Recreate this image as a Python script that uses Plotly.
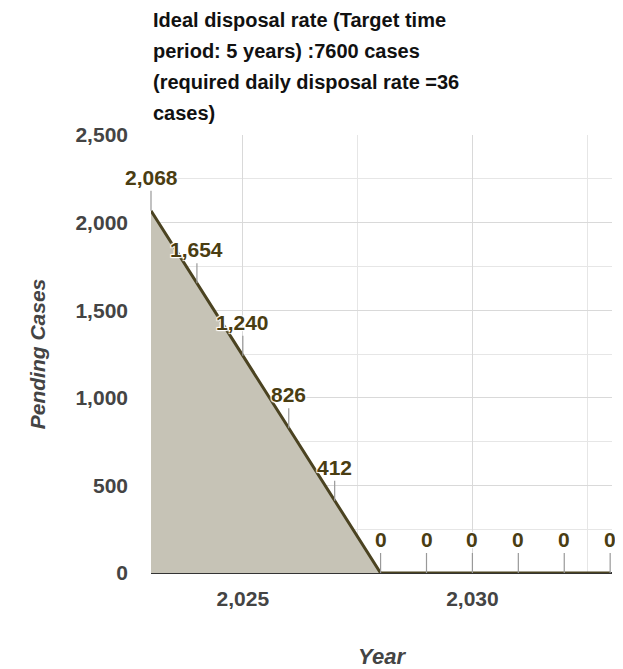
import plotly.graph_objects as go

# data
years = [2023, 2024, 2025, 2026, 2027, 2028, 2029, 2030, 2031, 2032, 2033]
pending = [2068, 1654, 1240, 826, 412, 0, 0, 0, 0, 0, 0]
title_lines = [
    "Ideal disposal rate (Target time",
    "period: 5 years) :7600 cases",
    "(required daily disposal rate =36",
    "cases)",
]
x_ticks = [2025, 2030]
y_ticks = [0, 500, 1000, 1500, 2000, 2500]

FONT = "Liberation Sans, Arial, sans-serif"
HALO = "1px 1px 1px #fff, -1px -1px 1px #fff, 1px -1px 1px #fff, -1px 1px 1px #fff"

# page body has an 8px margin, so the figure is a bit smaller than the window
W, H = 615, 661
M = dict(l=143, r=11, t=127, b=96)
plot_h = H - M["t"] - M["b"]

fig = go.Figure()
fig.add_trace(
    go.Scatter(
        x=years,
        y=pending,
        mode="lines",
        fill="tozeroy",
        fillcolor="#c6c3b6",
        line=dict(color="#4b4321", width=3),
        hoverinfo="x+y",
    )
)

# value labels with short stems
for yr, val in zip(years, pending):
    fig.add_annotation(
        x=yr,
        y=val,
        text=f"{val:,}",
        showarrow=True,
        arrowhead=0,
        arrowwidth=1.2,
        arrowcolor="#999999",
        ax=0,
        ay=-20,
        yanchor="bottom",
        font=dict(family=FONT, size=21, color="#4a3d12", weight="bold", shadow=HALO),
    )

# title lines, spaced like the reference
for i, line in enumerate(title_lines):
    y_px = 12 + i * 31
    fig.add_annotation(
        xref="paper",
        yref="paper",
        x=0,
        y=(H - M["b"] - y_px) / plot_h,
        xanchor="left",
        yanchor="middle",
        text=line,
        showarrow=False,
        font=dict(family=FONT, size=20, color="#111111", weight="bold"),
    )

fig.update_layout(
    width=W,
    height=H,
    margin=M,
    paper_bgcolor="white",
    plot_bgcolor="white",
    showlegend=False,
    font=dict(family=FONT, color="#444444"),
    xaxis=dict(
        range=[2023, 2033.04],
        tickvals=x_ticks,
        tickformat=",d",
        showgrid=True,
        gridcolor="#d9d9d9",
        minor=dict(dtick=2.5, tick0=2022.5, showgrid=True, gridcolor="#e6e6e6"),
        zeroline=False,
        showline=False,
        automargin=False,
        tickfont=dict(size=21, color="#444444", weight="bold"),
        ticklabelstandoff=11,
        title=dict(
            text="Year",
            font=dict(size=22, color="#444444", weight="bold", style="italic"),
            standoff=46,
        ),
    ),
    yaxis=dict(
        range=[0, 2500],
        tickvals=y_ticks,
        tickformat=",d",
        showgrid=True,
        gridcolor="#d9d9d9",
        minor=dict(dtick=250, showgrid=True, gridcolor="#e6e6e6"),
        zeroline=True,
        zerolinecolor="#333333",
        zerolinewidth=2,
        automargin=False,
        tickfont=dict(size=21, color="#444444", weight="bold"),
        ticklabelstandoff=22,
        title=dict(
            text="Pending Cases",
            font=dict(size=21, color="#444444", weight="bold", style="italic"),
            standoff=24,
        ),
    ),
)

fig.write_html("out.html")
